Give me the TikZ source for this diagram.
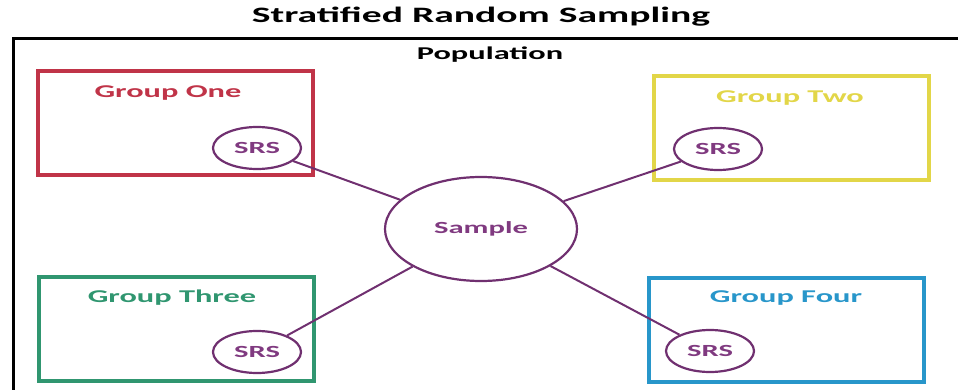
\documentclass[tikz,border=0pt]{standalone}
\usepackage{fontspec}
\setmainfont{Carlito}
\usepackage{graphicx}
\usetikzlibrary{shapes.geometric}

\definecolor{grpred}{RGB}{192,52,72}
\definecolor{grpyellow}{RGB}{226,214,72}
\definecolor{grpgreen}{RGB}{48,150,112}
\definecolor{grpblue}{RGB}{40,150,202}
\definecolor{srspurple}{RGB}{112,48,112}
\definecolor{txtpurple}{RGB}{128,58,128}

% text in the reference is stretched sideways
\newcommand{\wide}[1]{\scalebox{1.8}[1]{#1}}

\tikzset{
  groupbox/.style={draw,line width=4pt,minimum width=275pt,minimum height=104pt},
  grouplabel/.style={font=\bfseries\fontsize{18}{21}\selectfont},
  srs/.style={ellipse,draw=srspurple,line width=2.2pt,minimum width=88pt,minimum height=42pt,
    inner sep=0pt,text=txtpurple,font=\bfseries\fontsize{17}{20}\selectfont},
  link/.style={draw=srspurple,line width=2pt}
}

\begin{document}
\begin{tikzpicture}[x=1pt,y=-1pt]
\useasboundingbox (0,0) rectangle (958,390);

% frame of the population
\draw[line width=3pt] (13,390) |- (958,39);

\node (title) at (481,17) {\bfseries\fontsize{22}{26}\selectfont\wide{Stratified Random Sampling}};
\node (population) at (490,55) {\bfseries\fontsize{18}{22}\selectfont\wide{Population}};

% the four groups
\node[groupbox,draw=grpred]    (groupone)   at (175.5,123.5) {};
\node[groupbox,draw=grpyellow] (grouptwo)   at (791.5,128) {};
\node[groupbox,draw=grpgreen]  (groupthree) at (176,329) {};
\node[groupbox,draw=grpblue]   (groupfour)  at (786.5,330) {};

\node[grouplabel,text=grpred]    (labelone)   at (168,93)  {\wide{Group One}};
\node[grouplabel,text=grpyellow] (labeltwo)   at (790,98)  {\wide{Group Two}};
\node[grouplabel,text=grpgreen]  (labelthree) at (172,298) {\wide{Group Three}};
\node[grouplabel,text=grpblue]   (labelfour)  at (786,298) {\wide{Group Four}};

% samples
\node[srs,fill=white] (srsone)   at (257,148) {\wide{SRS}};
\node[srs,fill=white] (srstwo)   at (718,149) {\wide{SRS}};
\node[srs,fill=white] (srsthree) at (257,352) {\wide{SRS}};
\node[srs,fill=white] (srsfour)  at (710,351) {\wide{SRS}};

\node[srs,minimum width=192pt,minimum height=104pt,font=\bfseries\fontsize{17}{20}\selectfont] (sample) at (481,229) {\wide{Sample}};

\draw[link] (srsone) -- (sample);
\draw[link] (srstwo) -- (sample);
\draw[link] (srsthree) -- (sample);
\draw[link] (srsfour) -- (sample);

\end{tikzpicture}
\end{document}
